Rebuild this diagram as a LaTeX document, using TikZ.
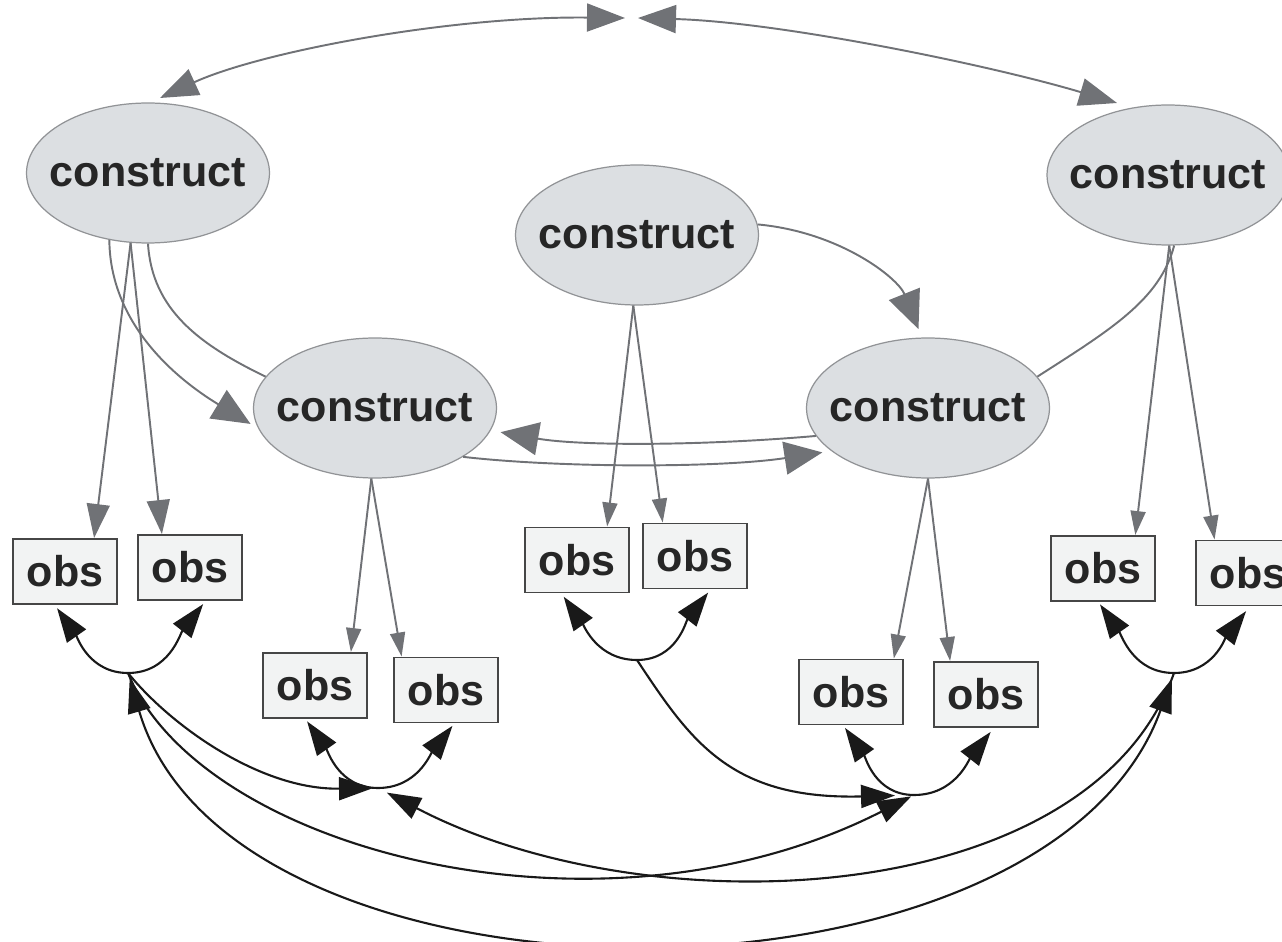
\documentclass[tikz,border=0pt]{standalone}
\usepackage{fontspec}
\setmainfont{Liberation Sans}
\usetikzlibrary{shapes.geometric,arrows.meta}
\definecolor{ellfill}{RGB}{220,223,226}
\definecolor{ellline}{RGB}{145,147,150}
\definecolor{boxfill}{RGB}{242,243,243}
\definecolor{boxline}{RGB}{70,70,70}
\definecolor{gcol}{RGB}{112,114,118}
\definecolor{bcol}{RGB}{25,25,25}
\definecolor{txt}{RGB}{38,38,38}
\newcommand{\ctext}{\makebox[0pt]{construct}}
\begin{document}
\begin{tikzpicture}[x=0.02cm,y=-0.02cm,
  construct/.style={ellipse, fill=ellfill, draw=ellline, line width=0.7pt,
    minimum width=4.86cm, minimum height=2.8cm, inner sep=0pt,
    font=\fontsize{24.5}{29}\selectfont\bfseries, text=txt},
  obsbox/.style={rectangle, fill=boxfill, draw=boxline, line width=1.1pt,
    minimum width=2.08cm, minimum height=1.3cm, inner sep=0pt,
    font=\fontsize{24.5}{29}\selectfont\bfseries, text=txt},
  gplain/.style={draw=gcol, line width=1.1pt},
  garr/.style={draw=gcol, line width=1.1pt, -{Triangle[length=0.48cm,width=0.3cm]}},
  garrL/.style={draw=gcol, line width=1.1pt, -{Triangle[length=0.68cm,width=0.46cm]}},
  gbig/.style={draw=gcol, line width=1.1pt, -{Triangle[length=0.76cm,width=0.66cm]}},
  gtwo/.style={draw=gcol, line width=1.1pt,
    {Triangle[length=0.76cm,width=0.56cm]}-{Triangle[length=0.76cm,width=0.56cm]}},
  bone/.style={draw=bcol, line width=1.2pt, -{Triangle[length=0.68cm,width=0.46cm]}},
  btwo/.style={draw=bcol, line width=1.2pt,
    {Triangle[length=0.68cm,width=0.46cm]}-{Triangle[length=0.68cm,width=0.46cm]}},
]
\useasboundingbox (0,0) rectangle (1282,942);
\clip (0,0) rectangle (1282,942);

% constructs
\node[construct] (C1) at (148,173) {\ctext};
\node[construct] (C2) at (375,408) {\ctext};
\node[construct] (C3) at (637,235) {\ctext};
\node[construct] (C4) at (928,408) {\ctext};
\node[construct, minimum width=4.84cm] (C5) at (1168,175) {\ctext};

% observed
\node[obsbox] (obs1) at (65,571.5) {obs};
\node[obsbox] (obs2) at (190,567.5) {obs};
\node[obsbox] (obs3) at (315,685.5) {obs};
\node[obsbox] (obs4) at (446,690) {obs};
\node[obsbox] (obs5) at (577,560) {obs};
\node[obsbox] (obs6) at (695,556) {obs};
\node[obsbox] (obs7) at (851,692) {obs};
\node[obsbox] (obs8) at (986,694.5) {obs};
\node[obsbox] (obs9) at (1103,568.5) {obs};
\node[obsbox] (obs10) at (1248,573) {obs};

% junction and free-end coordinates
\coordinate (j1) at (128,673);
\coordinate (j2) at (378,788);
\coordinate (j3) at (637,660);
\coordinate (j4) at (914,795);
\coordinate (j5) at (1174,673);
\coordinate (tl) at (625,18);
\coordinate (tr) at (638,18);
\coordinate (c1t) at (160,98);
\coordinate (c5t) at (1117,103);

% top arcs
\draw[gtwo] (c1t) .. controls (260,52) and (450,16) .. (tl);
\draw[gtwo] (tr) .. controls (780,22) and (990,65) .. (c5t);

% construct to construct
\draw[gbig, shorten >=0.18cm] (C1.240) .. controls (110,320) and (170,375) .. (C2.190);
\draw[gplain] (C1.270) .. controls (152,310) and (200,345) .. (C2.164);
\draw[gbig, shorten >=0.18cm] (C3.5) .. controls (840,232) and (898,278) .. (C4.95);
\draw[gbig, shorten >=0.2cm] (C4.194) .. controls (700,446) and (580,446) .. (C2.-11);
\draw[gbig, shorten >=0.18cm] (C2.-29) .. controls (560,468) and (720,468) .. (C4.204);
\draw[gplain] (C5.275) .. controls (1160,300) and (1110,330) .. (C4.16);

% construct to observed
\draw[garrL] (C1.256) -- (obs1.49);
\draw[garrL] (C1.256) -- (obs2.130);
\draw[garr] (C2.267) -- (obs3.43);
\draw[garr] (C2.267) -- (obs4.143);
\draw[garr] (C3.267) -- (obs5.48);
\draw[garr] (C3.267) -- (obs6.134);
\draw[garr] (C4.270) -- (obs7.38);
\draw[garr] (C4.270) -- (obs8.137);
\draw[garr] (C5.271) -- (obs9.46);
\draw[garr] (C5.271) -- (obs10.135);

% residual correlations within pairs
\draw[btwo, shorten <=0.08cm, shorten >=0.08cm] (obs1.253) to[out=-55,in=180] (j1) to[out=0,in=-128] (obs2.295);
\draw[btwo, shorten <=0.06cm, shorten >=0.06cm] (obs3.254) to[out=-55,in=180] (j2) to[out=0,in=-128] (obs4.284);
\draw[btwo, shorten <=0.08cm, shorten >=0.08cm] (obs5.245) to[out=-55,in=180] (j3) to[out=0,in=-128] (obs6.295);
\draw[btwo, shorten <=0.06cm, shorten >=0.1cm] (obs7.257) to[out=-55,in=180] (j4) to[out=0,in=-128] (obs8.283);
\draw[btwo, shorten <=0.06cm, shorten >=0.12cm] (obs9.262) to[out=-55,in=180] (j5) to[out=0,in=-128] (obs10.273);

% links between pairs
\draw[bone, shorten >=0.1cm] (j1) .. controls (170,725) and (260,790) .. (j2);
\draw[bone, shorten >=0.38cm] (j3) .. controls (690,740) and (730,800) .. (j4);
\draw[bone, shorten >=0.06cm] (j1) .. controls (200,850) and (600,955) .. (j4);
\draw[bone, shorten >=0.2cm] (j5) .. controls (1090,910) and (650,930) .. (j2);
\draw[btwo, shorten <=0.12cm, shorten >=0.12cm] (j1) .. controls (232,1027) and (1046,1027) .. (j5);
\end{tikzpicture}
\end{document}
